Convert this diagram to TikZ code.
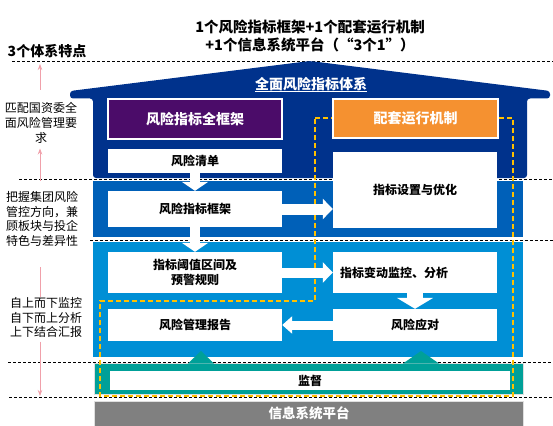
\documentclass[tikz,border=0pt]{standalone}
\usepackage{fontspec}
\setmainfont{Noto Sans CJK SC}
\usetikzlibrary{arrows.meta,calc}
\definecolor{navyc}{RGB}{0,50,140}
\definecolor{midblue}{RGB}{0,96,184}
\definecolor{ltblue}{RGB}{0,143,213}
\definecolor{tealc}{RGB}{0,160,152}
\definecolor{grayc}{RGB}{128,128,128}
\definecolor{purplec}{RGB}{75,12,105}
\definecolor{orangec}{RGB}{245,145,48}
\definecolor{yellowc}{RGB}{255,192,0}
\definecolor{pinkc}{RGB}{240,160,170}
\begin{document}
\begin{tikzpicture}[x=1pt,y=-1pt,
  wbox/.style={fill=white, inner sep=0pt, font=\fontsize{12}{14.5}\selectfont\bfseries, align=center},
  hbox/.style={draw=white, line width=1.5pt, inner sep=0pt, text=white, font=\fontsize{14}{16}\selectfont\bfseries},
  sidetext/.style={inner sep=0pt, align=center, font=\fontsize{12}{14.7}\selectfont},
  sepline/.style={black, line width=0.7pt, dash pattern=on 3pt off 2pt},
  pinkarr/.style={pinkc, line width=0.8pt, -{Stealth[length=6pt,width=4.5pt]}},
  pinkline/.style={pinkc, line width=0.8pt},
  blockarr/.style={white, -{Triangle[length=#1]}},
  yline/.style={yellowc, line width=1.6pt, dash pattern=on 5pt off 3pt}
]
\useasboundingbox (0,0) rectangle (553,425);

% separator dashed lines
\draw[sepline] (12,61) -- (553,61);
\draw[sepline] (19,179.5) -- (553,179.5);
\draw[sepline] (90,240.5) -- (553,240.5);
\draw[sepline] (8,362) -- (553,362);
\draw[sepline] (9,397) -- (553,397);

% title texts
\node[inner sep=0pt, align=center, font=\fontsize{14.5}{18}\selectfont\bfseries] (title) at (310,36)
  {1个风险指标框架+1个配套运行机制\\+1个信息系统平台（“3个1”）};
\node[inner sep=0pt, font=\fontsize{14}{16}\selectfont\bfseries] (feat) at (47,51) {3个体系特点};

% sections
\fill[navyc, rounded corners=3pt] (70,98.5) -- (70,91) -- (310,61) -- (550,91) -- (550,98.5)
  -- (527,98.5) -- (527,178) -- (93,178) -- (93,98.5) -- cycle;
\fill[midblue] (93,181) rectangle (523,237);
\fill[ltblue] (93,242) rectangle (523,357);
\fill[tealc, draw=gray!25, line width=0.6pt] (94,363) rectangle (523,394.5);
\fill[grayc, draw=gray!25, line width=0.6pt] (94,401) rectangle (523,426);

% teal up triangles
\fill[tealc] (188,363.5) -- (201,351) -- (214,363.5) -- cycle;
\fill[tealc] (403,363.5) -- (421,351) -- (439,363.5) -- cycle;

% header
\node[inner sep=0pt, text=white, font=\fontsize{14}{16}\selectfont\bfseries] (qm) at (311,84) {全面风险指标体系};
\draw[white, line width=1pt] (qm.south west |- 0,92) -- (qm.south east |- 0,92);

% yellow dashed outline
\draw[yline] (315,118) -- (513,118) -- (513,396) -- (100,396) -- (100,301) -- (315,301) -- cycle;

% boxes
\node[hbox, fill=purplec, minimum width=174pt, minimum height=40pt] (kj) at (195,119) {风险指标全框架};
\node[hbox, fill=orangec, minimum width=165pt, minimum height=39pt] (pt) at (415.5,118.5) {配套运行机制};
\node[wbox, minimum width=174pt, minimum height=24pt] (qd) at (195,161) {风险清单};
\node[wbox, minimum width=164pt, minimum height=76pt] (yh) at (415,190) {指标设置与优化};
\node[wbox, minimum width=174pt, minimum height=36pt] (kjf) at (195,209) {风险指标框架};
\node[wbox, minimum width=174pt, minimum height=41pt] (yz) at (195,272.5) {指标阈值区间及\\预警规则};
\node[wbox, minimum width=164pt, minimum height=41pt, text width=150pt, align=left] (jk) at (415,272.5) {指标变动监控、分析};
\node[wbox, minimum width=164pt, minimum height=32pt] (yd) at (415,325) {风险应对};
\node[wbox, minimum width=174pt, minimum height=32pt] (bg) at (195,325) {风险管理报告};
\node[wbox, minimum width=400pt, minimum height=19pt] (jd) at (310,380.5) {监督};
\node[inner sep=0pt, text=white, font=\fontsize{13.5}{16}\selectfont\bfseries] (xt) at (309,413) {信息系统平台};

% block arrows
\draw[blockarr=9pt, line width=10pt, arrows={-Triangle[length=9pt,width=26pt]}] (qd.south) -- (kjf.north);
\draw[blockarr=9pt, line width=10pt, arrows={-Triangle[length=9pt,width=26pt]}] (kjf.south) -- (yz.north);
\draw[blockarr=10pt, line width=11pt, arrows={-Triangle[length=10pt,width=20pt]}] (kjf.east) -- (kjf.east -| yh.west);
\draw[blockarr=10pt, line width=10pt, arrows={-Triangle[length=10pt,width=20pt]}] (yz.east) -- (jk.west);
\draw[blockarr=11pt, line width=16pt, arrows={-Triangle[length=11pt,width=36pt]}] (jk.south) -- (yd.north);
\draw[blockarr=10pt, line width=9pt, arrows={-Triangle[length=10pt,width=17pt]}] (yd.west) -- (bg.east);

% side texts
\node[sidetext] (t1) at (41,123) {匹配国资委全\\面风险管理要\\求};
\node[sidetext] (t2) at (42,219) {把握集团风险\\管控方向，兼\\顾板块与投企\\特色与差异性};
\node[sidetext, font=\fontsize{12}{14.5}\selectfont] (t3) at (46,317.5) {自上而下监控\\自下而上分析\\上下结合汇报};

% pink arrows
\coordinate (p1) at (40,64);
\coordinate (p2) at (40,181);
\coordinate (p3) at (40,267);
\coordinate (p4) at (40,396);
\draw[pinkarr, shorten <=13pt] (p1 |- t1.north) -- (p1);
\draw[pinkarr, shorten >=5pt] (p2) -- (p2 |- t1.south);
\draw[pinkline] (p3) -- (p3 |- t3.north);
\draw[pinkarr, shorten <=4pt] (p4 |- t3.south) -- (p4);
\end{tikzpicture}
\end{document}
